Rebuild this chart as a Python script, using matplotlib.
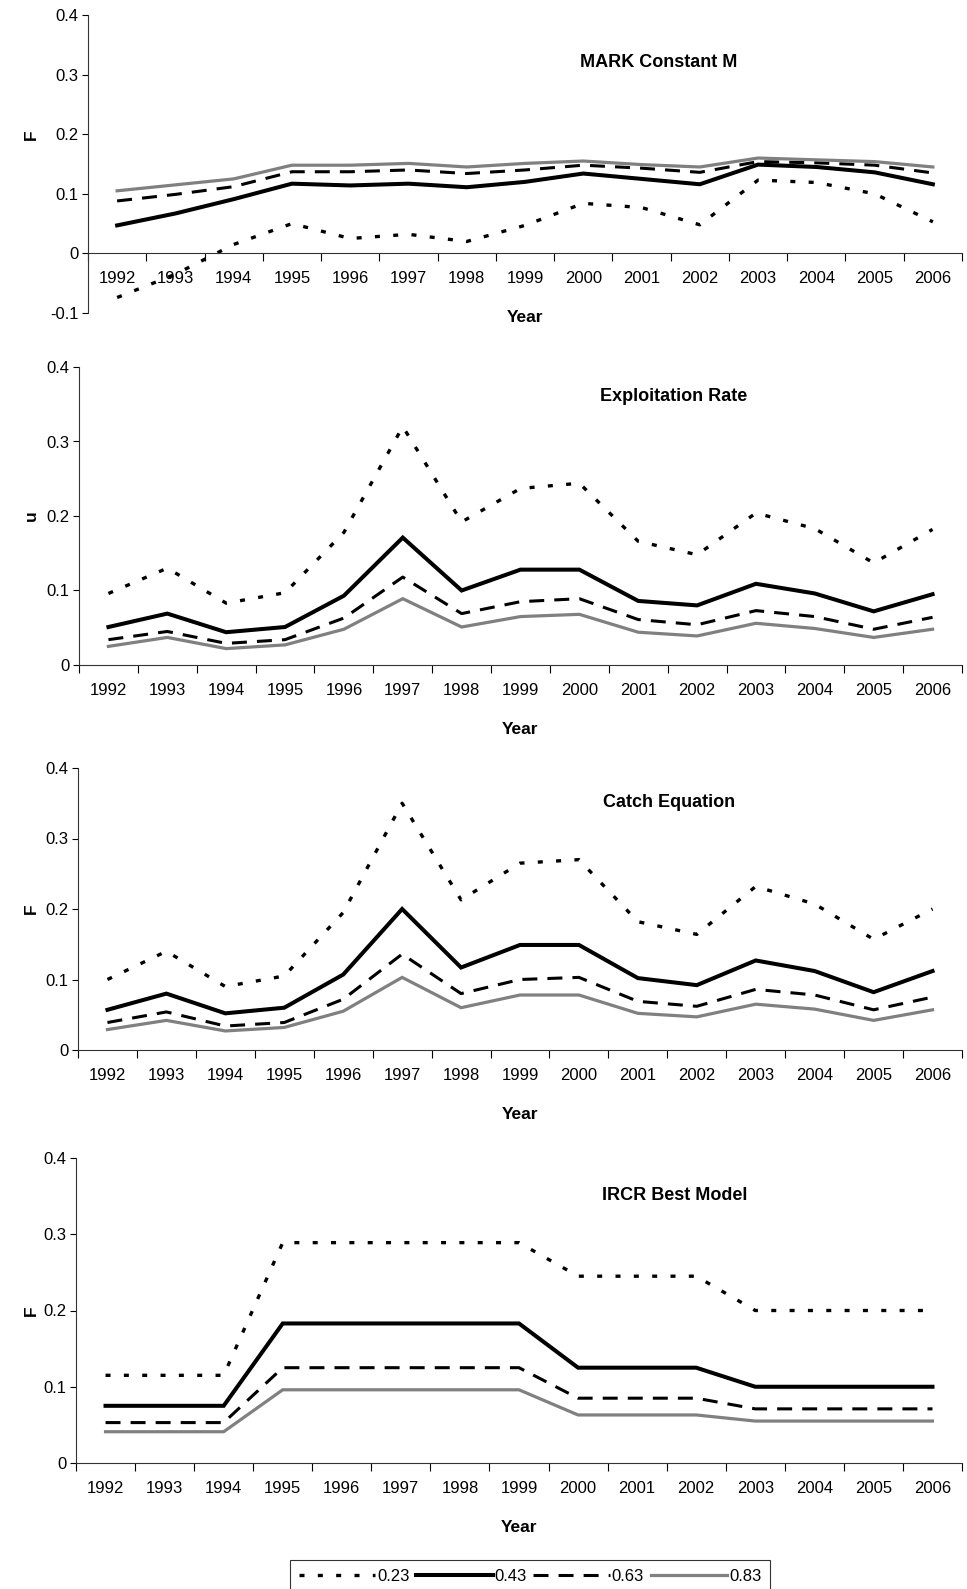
import numpy as np
import matplotlib
matplotlib.use("Agg")
import matplotlib.pyplot as plt
from matplotlib.transforms import blended_transform_factory

plt.rcParams['font.family'] = ['Liberation Sans', 'DejaVu Sans']

years = [str(y) for y in range(1992, 2007)]
series_names = ['0.23', '0.43', '0.63', '0.83']

# MARK Constant M (F)
mark_023 = [-0.074, -0.035, 0.015, 0.050, 0.025, 0.032, 0.020, 0.047, 0.084, 0.077, 0.048, 0.123, 0.119, 0.100, 0.053]
mark_043 = [0.047, 0.067, 0.091, 0.117, 0.114, 0.117, 0.111, 0.120, 0.134, 0.125, 0.116, 0.149, 0.145, 0.136, 0.116]
mark_063 = [0.088, 0.099, 0.112, 0.137, 0.137, 0.140, 0.134, 0.140, 0.148, 0.143, 0.136, 0.154, 0.152, 0.148, 0.135]
mark_083 = [0.105, 0.115, 0.125, 0.148, 0.148, 0.151, 0.145, 0.151, 0.155, 0.149, 0.145, 0.160, 0.157, 0.154, 0.145]

# Exploitation Rate (u)
expl_023 = [0.096, 0.130, 0.083, 0.097, 0.178, 0.320, 0.192, 0.237, 0.244, 0.166, 0.148, 0.204, 0.183, 0.137, 0.182]
expl_043 = [0.051, 0.069, 0.044, 0.051, 0.093, 0.171, 0.100, 0.128, 0.128, 0.086, 0.080, 0.109, 0.096, 0.072, 0.095]
expl_063 = [0.034, 0.045, 0.029, 0.034, 0.063, 0.118, 0.069, 0.085, 0.089, 0.061, 0.054, 0.073, 0.065, 0.048, 0.064]
expl_083 = [0.025, 0.037, 0.022, 0.027, 0.048, 0.089, 0.051, 0.065, 0.068, 0.044, 0.039, 0.056, 0.049, 0.037, 0.048]

# Catch Equation (F)
catch_023 = [0.100, 0.140, 0.090, 0.105, 0.195, 0.350, 0.213, 0.265, 0.270, 0.182, 0.164, 0.232, 0.207, 0.157, 0.200]
catch_043 = [0.057, 0.080, 0.052, 0.060, 0.107, 0.200, 0.117, 0.149, 0.149, 0.102, 0.092, 0.127, 0.112, 0.082, 0.112]
catch_063 = [0.039, 0.054, 0.034, 0.039, 0.072, 0.136, 0.080, 0.100, 0.103, 0.069, 0.062, 0.086, 0.078, 0.057, 0.075]
catch_083 = [0.029, 0.042, 0.027, 0.032, 0.055, 0.103, 0.060, 0.078, 0.078, 0.052, 0.047, 0.065, 0.058, 0.042, 0.057]

# IRCR Best Model (F)
ircr_023 = [0.115] * 3 + [0.289] * 5 + [0.245] * 3 + [0.200] * 4
ircr_043 = [0.075] * 3 + [0.183] * 5 + [0.125] * 3 + [0.100] * 4
ircr_063 = [0.053] * 3 + [0.125] * 5 + [0.085] * 3 + [0.071] * 4
ircr_083 = [0.041] * 3 + [0.096] * 5 + [0.063] * 3 + [0.055] * 4

panels = [
    ('MARK Constant M', 'F', [mark_023, mark_043, mark_063, mark_083], -0.1),
    ('Exploitation Rate', 'u', [expl_023, expl_043, expl_063, expl_083], 0.0),
    ('Catch Equation', 'F', [catch_023, catch_043, catch_063, catch_083], 0.0),
    ('IRCR Best Model', 'F', [ircr_023, ircr_043, ircr_063, ircr_083], 0.0),
]

W, H = 967, 1589
# axes boxes in pixels: left, right, top, bottom
boxes = [(88, 962, 15, 313), (79, 962, 367, 665), (78, 962, 768, 1050), (76, 962, 1158, 1463)]
title_x = [659, 674, 669, 675]
title_y = [0.32, 0.36, 0.351, 0.351]

styles = [
    dict(color='black', lw=2.4, linestyle=(0, (1.5, 4.0))),
    dict(color='black', lw=2.9, linestyle='-'),
    dict(color='black', lw=2.2, linestyle=(0, (4.9, 3.3))),
    dict(color='#808080', lw=2.3, linestyle='-'),
]

fig = plt.figure(figsize=(W / 100, H / 100), dpi=100)
x = np.arange(len(years))
handles = []
for i, (title, ylab, data, ymin) in enumerate(panels):
    l, r, t, b = boxes[i]
    ax = fig.add_axes([l / W, 1 - b / H, (r - l) / W, (b - t) / H])
    hs = []
    for vals, st, name in zip(data, styles, series_names):
        h, = ax.plot(x, vals, label=name, solid_joinstyle='miter', **st)
        hs.append(h)
    handles = hs
    ax.set_xlim(-0.5, len(years) - 0.5)
    ax.set_ylim(ymin, 0.4)
    yt = np.arange(ymin, 0.401, 0.1)
    ax.set_yticks(yt)
    ax.set_yticklabels(['%g' % round(v, 1) for v in yt])
    ax.set_xticks(x)
    ax.set_xticklabels(years)
    ax.set_xticks(np.arange(-0.5, len(years), 1.0), minor=True)
    ax.tick_params(axis='x', which='major', length=0, pad=13, labelsize=12)
    ax.tick_params(axis='x', which='minor', length=6, width=0.8, direction='out')
    ax.tick_params(axis='y', length=4, width=0.8, labelsize=12, pad=3)
    ax.spines['top'].set_visible(False)
    ax.spines['right'].set_visible(False)
    ax.spines['bottom'].set_position(('data', 0))
    for s in ('left', 'bottom'):
        ax.spines[s].set_linewidth(0.8)
        ax.spines[s].set_color('#333333')
    ax.set_xlabel('Year', fontsize=12.5, fontweight='bold', labelpad=17)
    tr = blended_transform_factory(fig.transFigure, ax.transData)
    ax.text(31 / W, 0.2, ylab, rotation=90, fontsize=12.5, fontweight='bold',
            ha='center', va='center', transform=tr)
    ax.text(title_x[i] / W, title_y[i], title, fontsize=13, fontweight='bold',
            ha='center', va='center', transform=tr)

leg = fig.legend(handles, series_names, loc='upper center', bbox_to_anchor=(530 / W, 1 - 1552 / H),
                 ncol=4, fontsize=12, frameon=True, fancybox=False, edgecolor='black',
                 handlelength=4.6, handletextpad=0.1, columnspacing=0.4, borderpad=0.5)
leg.get_frame().set_linewidth(0.8)

fig.savefig('out.png', dpi=100)
